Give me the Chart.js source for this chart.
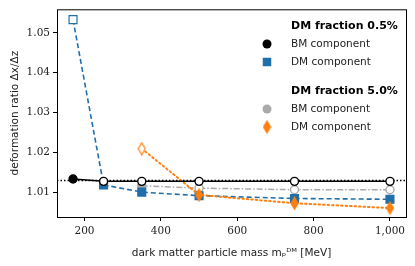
<!DOCTYPE html>
<html>
<head>
<meta charset="utf-8">
<script src="https://cdn.jsdelivr.net/npm/chart.js@4.4.0/dist/chart.umd.min.js"></script>
<style>
  html, body { margin: 0; padding: 0; background: #fff; }
  #wrap { width: 415px; height: 266px; }
</style>
</head>
<body>
<div id="wrap"><canvas id="c" width="415" height="266"></canvas></div>
<script>
// values
const MASS_05 = [170, 250, 350, 500, 750, 1000];
const BM_05 = [1.0133, 1.0127, 1.0127, 1.0127, 1.0127, 1.0127];
const DM_05 = [1.0533, 1.0118, 1.0100, 1.0091, 1.0084, 1.0082];

const MASS_50 = [350, 500, 750, 1000];
const BM_50 = [1.0116, 1.0110, 1.0106, 1.0106];
const DM_50 = [1.0209, 1.0093, 1.0072, 1.0060];

const REF_RATIO = 1.0129;

const X_TICKS = [200, 400, 600, 800, 1000];
const Y_TICKS = [1.01, 1.02, 1.03, 1.04, 1.05];

const GROUP_TITLES = ['DM fraction 0.5%', 'DM fraction 5.0%'];
const COMPONENT_LABELS = ['BM component', 'DM component'];

const BLUE = '#1f6fa8';
const ORANGE = '#ff7f0e';
const GREY = '#aaaaaa';
const BLACK = '#000000';

const pts = (xs, ys) => xs.map((x, i) => ({ x, y: ys[i] }));

// thin diamond marker, like matplotlib 'd'
function diamond(color, hollow) {
  const w = 9, h = 14;
  const cv = document.createElement('canvas');
  cv.width = w; cv.height = h;
  const g = cv.getContext('2d');
  g.beginPath();
  g.moveTo(w / 2, 1);
  g.lineTo(w - 1, h / 2);
  g.lineTo(w / 2, h - 1);
  g.lineTo(1, h / 2);
  g.closePath();
  g.fillStyle = hollow ? '#ffffff' : color;
  g.fill();
  g.lineWidth = 1.2;
  g.strokeStyle = color;
  g.stroke();
  return cv;
}
const DIAMOND_FULL = diamond(ORANGE, false);
const DIAMOND_OPEN = diamond(ORANGE, true);

const frame = {
  id: 'frame',
  beforeDatasetsDraw(chart) {
    const { ctx, chartArea: a, scales } = chart;
    const y = scales.y.getPixelForValue(REF_RATIO);
    ctx.save();
    ctx.strokeStyle = BLACK;
    ctx.lineWidth = 1.5;
    ctx.setLineDash([1.5, 2]);
    ctx.beginPath();
    ctx.moveTo(a.left, y);
    ctx.lineTo(a.right, y);
    ctx.stroke();
    ctx.restore();
  },
  afterDraw(chart) {
    const { ctx, chartArea: a } = chart;
    ctx.save();
    ctx.strokeStyle = BLACK;
    ctx.lineWidth = 1;
    ctx.strokeRect(a.left + 0.5, a.top + 0.5, a.right - a.left, a.bottom - a.top);
    ctx.restore();
  }
};

// legend with group headers, drawn inside the axes
const groupLegend = {
  id: 'groupLegend',
  afterDraw(chart) {
    const { ctx } = chart;
    const ds = chart.data.datasets;
    const groups = [[ds[0], ds[1]], [ds[2], ds[3]]];
    const mx = 267, tx = 291;
    let y = 26;
    ctx.save();
    ctx.textBaseline = 'middle';
    groups.forEach((g, gi) => {
      ctx.font = 'bold 11px "DejaVu Sans"';
      ctx.fillStyle = BLACK;
      ctx.textAlign = 'left';
      ctx.fillText(GROUP_TITLES[gi], tx, y);
      y += 18;
      g.forEach(d => {
        const opts = {
          pointStyle: d.legendStyle,
          radius: d.legendRadius,
          borderWidth: 0
        };
        ctx.fillStyle = d.legendColor;
        ctx.strokeStyle = d.legendColor;
        Chart.helpers.drawPoint(ctx, opts, mx, y);
        ctx.fillStyle = '#222';
        ctx.font = '10.5px "DejaVu Sans"';
        ctx.fillText(d.label, tx, y);
        y += 18;
      });
      y += 11;
    });
    ctx.restore();
  }
};

new Chart(document.getElementById('c'), {
  type: 'line',
  data: {
    datasets: [
      {
        label: COMPONENT_LABELS[0],
        data: pts(MASS_05, BM_05),
        order: 0,
        borderColor: BLACK,
        borderWidth: 1.5,
        pointStyle: 'circle',
        pointRadius: 4,
        pointBorderWidth: 1.4,
        pointBorderColor: BLACK,
        pointBackgroundColor: c => c.dataIndex === 0 ? BLACK : '#ffffff',
        legendStyle: 'circle', legendRadius: 4.5, legendColor: BLACK
      },
      {
        label: COMPONENT_LABELS[1],
        data: pts(MASS_05, DM_05),
        order: 2,
        borderColor: BLUE,
        borderWidth: 1.6,
        borderDash: [5, 3],
        pointStyle: 'rect',
        pointRadius: 5.6,
        pointBorderWidth: 1.2,
        pointBorderColor: BLUE,
        pointBackgroundColor: c => c.dataIndex === 0 ? '#ffffff' : BLUE,
        legendStyle: 'rect', legendRadius: 6, legendColor: BLUE
      },
      {
        label: COMPONENT_LABELS[0],
        data: pts(MASS_50, BM_50),
        order: 3,
        borderColor: GREY,
        borderWidth: 1.5,
        borderDash: [6, 2, 1.5, 2],
        pointStyle: 'circle',
        pointRadius: 4,
        pointBorderWidth: 1.4,
        pointBorderColor: GREY,
        pointBackgroundColor: c => c.dataIndex === 0 ? GREY : '#ffffff',
        legendStyle: 'circle', legendRadius: 4.5, legendColor: GREY
      },
      {
        label: COMPONENT_LABELS[1],
        data: pts(MASS_50, DM_50),
        order: 1,
        borderColor: ORANGE,
        borderWidth: 2,
        borderDash: [1.5, 3],
        borderCapStyle: 'round',
        pointStyle: c => c.dataIndex === 0 ? DIAMOND_OPEN : DIAMOND_FULL,
        pointRadius: 6,
        legendStyle: DIAMOND_FULL, legendRadius: 6, legendColor: ORANGE
      }
    ]
  },
  options: {
    responsive: false,
    animation: false,
    layout: { padding: { top: 8, right: 9, left: 9, bottom: 6 } },
    plugins: {
      legend: { display: false },
      tooltip: { enabled: false }
    },
    scales: {
      x: {
        type: 'linear',
        min: 128,
        max: 1042,
        afterBuildTicks: s => { s.ticks = X_TICKS.map(v => ({ value: v })); },
        afterFit: s => { s.height = 43; },
        grid: { drawOnChartArea: false, tickLength: 4, tickColor: BLACK, tickWidth: 1 },
        border: { display: false },
        ticks: {
          color: '#222',
          padding: 4,
          maxRotation: 0,
          font: { family: '"DejaVu Serif"', size: 10.5 }
        },
        title: {
          display: true,
          text: 'dark matter particle mass mₚᴰᴹ [MeV]',
          color: '#222',
          padding: { top: 0, bottom: 0 },
          font: { family: '"DejaVu Sans"', size: 10.5 }
        }
      },
      y: {
        min: 1.00375,
        max: 1.0559,
        afterBuildTicks: s => { s.ticks = Y_TICKS.map(v => ({ value: v })); },
        afterFit: s => { s.width = 48; },
        grid: { drawOnChartArea: false, tickLength: 4, tickColor: BLACK, tickWidth: 1 },
        border: { display: false },
        ticks: {
          color: '#222',
          padding: 3,
          callback: v => v.toFixed(2),
          font: { family: '"DejaVu Serif"', size: 10.5 }
        },
        title: {
          display: true,
          text: 'deformation ratio Δx/Δz',
          color: '#222',
          padding: { top: 0, bottom: 0 },
          font: { family: '"DejaVu Sans"', size: 10.5 }
        }
      }
    }
  },
  plugins: [frame, groupLegend]
});
</script>
</body>
</html>
